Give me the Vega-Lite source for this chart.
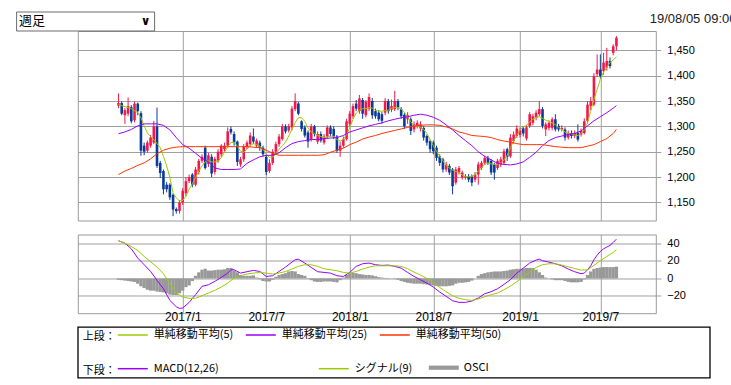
{
  "$schema": "https://vega.github.io/schema/vega-lite/v6.json",
  "background": "white",
  "padding": {"left": 14.8, "top": 11, "right": 0, "bottom": 0},
  "config": {
    "view": {"stroke": "#9a9a9a", "strokeWidth": 1},
    "axis": {"gridColor": "#a0a0a0", "gridWidth": 1, "domain": false, "labelFont": "Liberation Sans", "labelFontSize": 11, "labelColor": "#000000", "tickColor": "#a0a0a0", "labelOverlap": false},
    "legend": {
      "orient": "none", "direction": "horizontal", "symbolType": "stroke", "symbolSize": 900, "symbolStrokeWidth": 1.5,
      "labelFont": "Noto Sans CJK JP", "labelFontSize": 11, "labelColor": "#000000", "labelOffset": 5, "labelLimit": 300,
      "titleFont": "Noto Sans CJK JP", "titleFontSize": 11, "titleFontWeight": "normal", "titleColor": "#000000",
      "titleOrient": "left", "titlePadding": 1, "titleAnchor": "end", "titleBaseline": "alphabetic", "padding": 0
    }
  },
  "datasets": {
    "k": [
      {"w":0,"o":1341,"h":1365,"l":1336,"c":1346,"m5":1343,"osc":-1.5},
      {"w":1,"o":1346,"h":1349,"l":1322,"c":1325,"m5":1341,"osc":-2},
      {"w":2,"o":1322,"h":1336,"l":1305,"c":1332,"m5":1339,"osc":-2.5},
      {"w":3,"o":1325,"h":1357,"l":1320,"c":1340,"m5":1337,"osc":-3},
      {"w":4,"o":1338,"h":1342,"l":1306,"c":1310,"m5":1335,"osc":-3.5},
      {"w":5,"o":1312,"h":1349,"l":1308,"c":1345,"m5":1331,"osc":-4},
      {"w":6,"o":1345,"h":1347,"l":1322,"c":1330,"m5":1327,"osc":-6},
      {"w":7,"o":1326,"h":1330,"l":1242,"c":1252,"m5":1317,"osc":-9},
      {"w":8,"o":1262,"h":1268,"l":1243,"c":1250,"m5":1301,"osc":-11},
      {"w":9,"o":1252,"h":1272,"l":1248,"c":1268,"m5":1287,"osc":-13},
      {"w":10,"o":1262,"h":1283,"l":1258,"c":1278,"m5":1280,"osc":-14},
      {"w":11,"o":1268,"h":1311,"l":1265,"c":1300,"m5":1274,"osc":-14},
      {"w":12,"o":1300,"h":1337,"l":1218,"c":1222,"m5":1266,"osc":-15},
      {"w":13,"o":1228,"h":1232,"l":1198,"c":1208,"m5":1258,"osc":-15.5},
      {"w":14,"o":1212,"h":1215,"l":1166,"c":1176,"m5":1241,"osc":-16},
      {"w":15,"o":1185,"h":1190,"l":1170,"c":1176,"m5":1222,"osc":-17},
      {"w":16,"o":1185,"h":1188,"l":1155,"c":1160,"m5":1199,"osc":-18.5},
      {"w":17,"o":1165,"h":1168,"l":1123,"c":1136,"m5":1169,"osc":-19},
      {"w":18,"o":1137,"h":1140,"l":1128,"c":1133,"m5":1159,"osc":-19},
      {"w":19,"o":1133,"h":1155,"l":1128,"c":1150,"m5":1153,"osc":-17},
      {"w":20,"o":1150,"h":1178,"l":1145,"c":1173,"m5":1154,"osc":-14},
      {"w":21,"o":1168,"h":1200,"l":1162,"c":1192,"m5":1162,"osc":-10},
      {"w":22,"o":1192,"h":1205,"l":1188,"c":1200,"m5":1176,"osc":-8},
      {"w":23,"o":1205,"h":1208,"l":1180,"c":1185,"m5":1187,"osc":-3},
      {"w":24,"o":1185,"h":1220,"l":1182,"c":1215,"m5":1199,"osc":3},
      {"w":25,"o":1210,"h":1236,"l":1205,"c":1232,"m5":1212,"osc":7},
      {"w":26,"o":1232,"h":1245,"l":1228,"c":1240,"m5":1222,"osc":10},
      {"w":27,"o":1258,"h":1262,"l":1215,"c":1218,"m5":1230,"osc":11},
      {"w":28,"o":1226,"h":1248,"l":1220,"c":1243,"m5":1232,"osc":9},
      {"w":29,"o":1240,"h":1245,"l":1200,"c":1207,"m5":1230,"osc":9},
      {"w":30,"o":1210,"h":1240,"l":1205,"c":1236,"m5":1230,"osc":9.5},
      {"w":31,"o":1232,"h":1255,"l":1228,"c":1250,"m5":1232,"osc":10},
      {"w":32,"o":1245,"h":1265,"l":1240,"c":1262,"m5":1238,"osc":10},
      {"w":33,"o":1255,"h":1268,"l":1250,"c":1262,"m5":1249,"osc":10.5},
      {"w":34,"o":1262,"h":1298,"l":1258,"c":1290,"m5":1260,"osc":12},
      {"w":35,"o":1295,"h":1300,"l":1284,"c":1288,"m5":1268,"osc":12},
      {"w":36,"o":1285,"h":1290,"l":1262,"c":1268,"m5":1269,"osc":9},
      {"w":37,"o":1270,"h":1272,"l":1222,"c":1230,"m5":1261,"osc":7},
      {"w":38,"o":1225,"h":1240,"l":1220,"c":1235,"m5":1251,"osc":4},
      {"w":39,"o":1235,"h":1265,"l":1230,"c":1260,"m5":1249,"osc":3},
      {"w":40,"o":1260,"h":1272,"l":1255,"c":1268,"m5":1255,"osc":3},
      {"w":41,"o":1265,"h":1288,"l":1260,"c":1282,"m5":1262,"osc":3},
      {"w":42,"o":1280,"h":1296,"l":1265,"c":1270,"m5":1266,"osc":3.5},
      {"w":43,"o":1262,"h":1276,"l":1258,"c":1272,"m5":1264,"osc":1},
      {"w":44,"o":1268,"h":1272,"l":1252,"c":1258,"m5":1261,"osc":-1},
      {"w":45,"o":1258,"h":1262,"l":1240,"c":1245,"m5":1255,"osc":-3},
      {"w":46,"o":1240,"h":1244,"l":1204,"c":1210,"m5":1245,"osc":-3.5},
      {"w":47,"o":1212,"h":1235,"l":1208,"c":1228,"m5":1239,"osc":-3.5},
      {"w":48,"o":1228,"h":1255,"l":1224,"c":1250,"m5":1240,"osc":-1.5},
      {"w":49,"o":1250,"h":1270,"l":1245,"c":1265,"m5":1245,"osc":2},
      {"w":50,"o":1265,"h":1285,"l":1260,"c":1280,"m5":1255,"osc":4},
      {"w":51,"o":1275,"h":1305,"l":1272,"c":1300,"m5":1262,"osc":5},
      {"w":52,"o":1300,"h":1304,"l":1286,"c":1290,"m5":1269,"osc":6},
      {"w":53,"o":1292,"h":1305,"l":1288,"c":1300,"m5":1281,"osc":8},
      {"w":54,"o":1298,"h":1340,"l":1292,"c":1335,"m5":1294,"osc":8.5},
      {"w":55,"o":1334,"h":1365,"l":1330,"c":1350,"m5":1307,"osc":8},
      {"w":56,"o":1345,"h":1348,"l":1322,"c":1325,"m5":1317,"osc":5},
      {"w":57,"o":1310,"h":1312,"l":1290,"c":1295,"m5":1317,"osc":4},
      {"w":58,"o":1298,"h":1302,"l":1278,"c":1282,"m5":1310,"osc":3},
      {"w":59,"o":1288,"h":1292,"l":1258,"c":1270,"m5":1297,"osc":0.5},
      {"w":60,"o":1275,"h":1305,"l":1270,"c":1300,"m5":1289,"osc":-2},
      {"w":61,"o":1300,"h":1303,"l":1280,"c":1285,"m5":1286,"osc":-3.5},
      {"w":62,"o":1270,"h":1290,"l":1265,"c":1285,"m5":1282,"osc":-4},
      {"w":63,"o":1285,"h":1290,"l":1268,"c":1272,"m5":1280,"osc":-4},
      {"w":64,"o":1268,"h":1285,"l":1264,"c":1280,"m5":1278,"osc":-3.5},
      {"w":65,"o":1280,"h":1302,"l":1276,"c":1298,"m5":1279,"osc":-3.5},
      {"w":66,"o":1298,"h":1302,"l":1280,"c":1285,"m5":1281,"osc":-3.5},
      {"w":67,"o":1295,"h":1300,"l":1275,"c":1280,"m5":1280,"osc":-4},
      {"w":68,"o":1280,"h":1283,"l":1248,"c":1252,"m5":1274,"osc":-4.5},
      {"w":69,"o":1252,"h":1270,"l":1240,"c":1262,"m5":1271,"osc":-2},
      {"w":70,"o":1262,"h":1280,"l":1258,"c":1275,"m5":1274,"osc":1},
      {"w":71,"o":1275,"h":1315,"l":1272,"c":1310,"m5":1284,"osc":4},
      {"w":72,"o":1305,"h":1330,"l":1300,"c":1325,"m5":1297,"osc":6},
      {"w":73,"o":1320,"h":1345,"l":1315,"c":1340,"m5":1314,"osc":6.5},
      {"w":74,"o":1345,"h":1352,"l":1330,"c":1335,"m5":1326,"osc":6},
      {"w":75,"o":1330,"h":1362,"l":1325,"c":1355,"m5":1332,"osc":5},
      {"w":76,"o":1352,"h":1356,"l":1315,"c":1325,"m5":1335,"osc":4.5},
      {"w":77,"o":1322,"h":1352,"l":1318,"c":1348,"m5":1335,"osc":4},
      {"w":78,"o":1335,"h":1365,"l":1330,"c":1358,"m5":1337,"osc":4},
      {"w":79,"o":1350,"h":1356,"l":1315,"c":1322,"m5":1336,"osc":3.5},
      {"w":80,"o":1330,"h":1335,"l":1315,"c":1320,"m5":1332,"osc":2.5},
      {"w":81,"o":1327,"h":1332,"l":1310,"c":1314,"m5":1330,"osc":1.5},
      {"w":82,"o":1324,"h":1328,"l":1305,"c":1311,"m5":1330,"osc":1},
      {"w":83,"o":1327,"h":1356,"l":1322,"c":1350,"m5":1331,"osc":0.5},
      {"w":84,"o":1350,"h":1354,"l":1325,"c":1330,"m5":1332,"osc":0.5},
      {"w":85,"o":1333,"h":1353,"l":1328,"c":1340,"m5":1336,"osc":0},
      {"w":86,"o":1334,"h":1370,"l":1330,"c":1350,"m5":1337,"osc":-0.5},
      {"w":87,"o":1350,"h":1354,"l":1332,"c":1337,"m5":1337,"osc":-1.5},
      {"w":88,"o":1334,"h":1338,"l":1315,"c":1320,"m5":1334,"osc":-3},
      {"w":89,"o":1323,"h":1326,"l":1295,"c":1300,"m5":1328,"osc":-4},
      {"w":90,"o":1314,"h":1328,"l":1305,"c":1322,"m5":1319,"osc":-5},
      {"w":91,"o":1314,"h":1318,"l":1283,"c":1291,"m5":1309,"osc":-5.5},
      {"w":92,"o":1294,"h":1310,"l":1288,"c":1304,"m5":1302,"osc":-6},
      {"w":93,"o":1301,"h":1312,"l":1296,"c":1307,"m5":1301,"osc":-6},
      {"w":94,"o":1296,"h":1310,"l":1290,"c":1304,"m5":1298,"osc":-6},
      {"w":95,"o":1297,"h":1300,"l":1272,"c":1278,"m5":1294,"osc":-6.5},
      {"w":96,"o":1281,"h":1284,"l":1262,"c":1268,"m5":1286,"osc":-7},
      {"w":97,"o":1271,"h":1274,"l":1248,"c":1255,"m5":1274,"osc":-7.5},
      {"w":98,"o":1268,"h":1272,"l":1245,"c":1251,"m5":1262,"osc":-8},
      {"w":99,"o":1258,"h":1262,"l":1232,"c":1238,"m5":1251,"osc":-8.5},
      {"w":100,"o":1241,"h":1245,"l":1222,"c":1228,"m5":1241,"osc":-9},
      {"w":101,"o":1235,"h":1238,"l":1209,"c":1215,"m5":1232,"osc":-9},
      {"w":102,"o":1215,"h":1230,"l":1210,"c":1225,"m5":1223,"osc":-9},
      {"w":103,"o":1222,"h":1226,"l":1204,"c":1209,"m5":1218,"osc":-8.5},
      {"w":104,"o":1215,"h":1218,"l":1166,"c":1182,"m5":1214,"osc":-8},
      {"w":105,"o":1189,"h":1220,"l":1185,"c":1215,"m5":1211,"osc":-6},
      {"w":106,"o":1209,"h":1222,"l":1205,"c":1218,"m5":1209,"osc":-5},
      {"w":107,"o":1199,"h":1213,"l":1195,"c":1209,"m5":1204,"osc":-5},
      {"w":108,"o":1199,"h":1206,"l":1195,"c":1202,"m5":1201,"osc":-4.5},
      {"w":109,"o":1202,"h":1206,"l":1190,"c":1195,"m5":1201,"osc":-4},
      {"w":110,"o":1202,"h":1205,"l":1182,"c":1189,"m5":1201,"osc":-2.5},
      {"w":111,"o":1195,"h":1210,"l":1190,"c":1205,"m5":1205,"osc":0},
      {"w":112,"o":1205,"h":1230,"l":1185,"c":1225,"m5":1212,"osc":3},
      {"w":113,"o":1218,"h":1232,"l":1214,"c":1228,"m5":1218,"osc":5},
      {"w":114,"o":1228,"h":1242,"l":1224,"c":1238,"m5":1225,"osc":6},
      {"w":115,"o":1238,"h":1242,"l":1224,"c":1228,"m5":1228,"osc":7},
      {"w":116,"o":1232,"h":1236,"l":1204,"c":1209,"m5":1226,"osc":7.5},
      {"w":117,"o":1225,"h":1228,"l":1195,"c":1209,"m5":1225,"osc":8},
      {"w":118,"o":1218,"h":1236,"l":1214,"c":1232,"m5":1225,"osc":8},
      {"w":119,"o":1225,"h":1240,"l":1220,"c":1235,"m5":1228,"osc":8},
      {"w":120,"o":1228,"h":1256,"l":1224,"c":1251,"m5":1234,"osc":8.5},
      {"w":121,"o":1255,"h":1258,"l":1232,"c":1240,"m5":1243,"osc":9},
      {"w":122,"o":1241,"h":1285,"l":1238,"c":1278,"m5":1258,"osc":10},
      {"w":123,"o":1271,"h":1290,"l":1266,"c":1284,"m5":1271,"osc":10.5},
      {"w":124,"o":1281,"h":1302,"l":1277,"c":1296,"m5":1282,"osc":11},
      {"w":125,"o":1283,"h":1298,"l":1278,"c":1293,"m5":1293,"osc":11},
      {"w":126,"o":1296,"h":1300,"l":1280,"c":1286,"m5":1299,"osc":11.5},
      {"w":127,"o":1276,"h":1302,"l":1272,"c":1298,"m5":1302,"osc":12},
      {"w":128,"o":1301,"h":1328,"l":1297,"c":1324,"m5":1309,"osc":12},
      {"w":129,"o":1307,"h":1325,"l":1302,"c":1320,"m5":1314,"osc":12},
      {"w":130,"o":1317,"h":1332,"l":1312,"c":1327,"m5":1318,"osc":10},
      {"w":131,"o":1324,"h":1350,"l":1320,"c":1334,"m5":1319,"osc":7},
      {"w":132,"o":1334,"h":1338,"l":1296,"c":1301,"m5":1316,"osc":4},
      {"w":133,"o":1294,"h":1308,"l":1281,"c":1304,"m5":1312,"osc":1},
      {"w":134,"o":1297,"h":1312,"l":1292,"c":1307,"m5":1310,"osc":0},
      {"w":135,"o":1297,"h":1318,"l":1292,"c":1314,"m5":1307,"osc":-1},
      {"w":136,"o":1314,"h":1324,"l":1290,"c":1294,"m5":1303,"osc":-2},
      {"w":137,"o":1301,"h":1305,"l":1290,"c":1294,"m5":1298,"osc":-2},
      {"w":138,"o":1294,"h":1302,"l":1290,"c":1297,"m5":1294,"osc":-2},
      {"w":139,"o":1294,"h":1298,"l":1272,"c":1278,"m5":1289,"osc":-3},
      {"w":140,"o":1278,"h":1292,"l":1274,"c":1287,"m5":1286,"osc":-4},
      {"w":141,"o":1287,"h":1292,"l":1276,"c":1281,"m5":1285,"osc":-4.5},
      {"w":142,"o":1281,"h":1292,"l":1277,"c":1287,"m5":1283,"osc":-4.5},
      {"w":143,"o":1287,"h":1304,"l":1270,"c":1274,"m5":1282,"osc":-4.5},
      {"w":144,"o":1284,"h":1296,"l":1280,"c":1291,"m5":1286,"osc":-4},
      {"w":145,"o":1287,"h":1316,"l":1284,"c":1310,"m5":1294,"osc":-1},
      {"w":146,"o":1311,"h":1350,"l":1306,"c":1343,"m5":1307,"osc":4},
      {"w":147,"o":1340,"h":1358,"l":1332,"c":1350,"m5":1330,"osc":8},
      {"w":148,"o":1343,"h":1405,"l":1340,"c":1399,"m5":1353,"osc":11},
      {"w":149,"o":1403,"h":1442,"l":1398,"c":1412,"m5":1373,"osc":12},
      {"w":150,"o":1412,"h":1442,"l":1394,"c":1399,"m5":1393,"osc":12.5},
      {"w":151,"o":1409,"h":1445,"l":1402,"c":1426,"m5":1407,"osc":13},
      {"w":152,"o":1416,"h":1455,"l":1410,"c":1429,"m5":1416,"osc":13},
      {"w":153,"o":1429,"h":1436,"l":1414,"c":1419,"m5":1426,"osc":13},
      {"w":154,"o":1445,"h":1462,"l":1440,"c":1458,"m5":1431,"osc":13},
      {"w":155,"o":1458,"h":1478,"l":1450,"c":1475,"m5":1437,"osc":13.5}
    ],
    "s": [
      {"w":0,"m25":1285.5,"m50":1205,"macd":43.1,"sig":43.1},
      {"w":2,"m25":1289,"m50":1212,"macd":40.4,"sig":40.4},
      {"w":4,"m25":1294,"m50":1217,"macd":33.9,"sig":36.6},
      {"w":6,"m25":1301,"m50":1223,"macd":23.3,"sig":32.0},
      {"w":8,"m25":1305,"m50":1228,"macd":15.7,"sig":25.2},
      {"w":10,"m25":1305,"m50":1236,"macd":8.0,"sig":19.1},
      {"w":12,"m25":1305,"m50":1246,"macd":-2.2,"sig":13.0},
      {"w":14,"m25":1302,"m50":1253,"macd":-11.8,"sig":5.4},
      {"w":16,"m25":1293,"m50":1257,"macd":-25.1,"sig":-6.1},
      {"w":18,"m25":1278,"m50":1259,"macd":-32.4,"sig":-16.7},
      {"w":19,"macd":-34.3},
      {"w":20,"m25":1264,"m50":1260,"macd":-33.9,"sig":-21.3},
      {"w":22,"m25":1257,"m50":1260,"macd":-27.4,"sig":-22.8},
      {"w":24,"m25":1247,"m50":1260,"macd":-18.6,"sig":-22.8},
      {"w":26,"m25":1237,"m50":1260,"macd":-9.1,"sig":-19.8},
      {"w":28,"m25":1230,"m50":1260,"macd":-7.2,"sig":-16.7},
      {"w":30,"m25":1218,"m50":1260,"macd":-3.4,"sig":-13.7},
      {"w":32,"m25":1215,"m50":1260,"macd":1.2,"sig":-9.9},
      {"w":34,"m25":1215,"m50":1260,"macd":6.1,"sig":-5.3},
      {"w":35,"macd":9.9},
      {"w":36,"m25":1215,"m50":1260,"macd":9.9,"sig":0.4},
      {"w":38,"m25":1216,"m50":1260,"macd":6.1,"sig":3.1},
      {"w":40,"m25":1227,"m50":1260,"macd":7.7,"sig":5.0},
      {"w":42,"m25":1234,"m50":1259,"macd":9.2,"sig":6.1},
      {"w":44,"m25":1240,"m50":1258,"macd":8.0,"sig":6.9},
      {"w":46,"m25":1243,"m50":1253,"macd":2.3,"sig":6.1},
      {"w":48,"m25":1243,"m50":1247,"macd":3.1,"sig":5.0},
      {"w":50,"m25":1248,"m50":1243,"macd":8.0,"sig":6.1},
      {"w":52,"m25":1258,"m50":1243,"macd":13.0,"sig":8.0},
      {"w":54,"m25":1266,"m50":1243,"macd":18.7,"sig":10.7},
      {"w":55,"macd":21.4},
      {"w":56,"m25":1270,"m50":1243,"macd":22.1,"sig":13.8},
      {"w":58,"m25":1272,"m50":1243,"macd":17.6,"sig":15.7},
      {"w":60,"m25":1274,"m50":1243,"macd":12.6,"sig":15.7},
      {"w":62,"m25":1274,"m50":1243,"macd":7.7,"sig":13.8},
      {"w":64,"m25":1276,"m50":1244,"macd":6.9,"sig":11.1},
      {"w":66,"m25":1277,"m50":1249,"macd":6.1,"sig":9.9},
      {"w":68,"m25":1278,"m50":1253,"macd":3.1,"sig":8.8},
      {"w":70,"m25":1282,"m50":1257,"macd":2.3,"sig":6.9},
      {"w":72,"m25":1289,"m50":1264,"macd":6.9,"sig":6.1},
      {"w":74,"m25":1293,"m50":1269,"macd":13.8,"sig":8.0},
      {"w":76,"m25":1297,"m50":1275,"macd":16.8,"sig":10.7},
      {"w":78,"m25":1301,"m50":1279,"macd":17.6,"sig":13.0},
      {"w":80,"m25":1304,"m50":1282,"macd":15.7,"sig":14.5},
      {"w":82,"m25":1307,"m50":1286,"macd":14.9,"sig":14.5},
      {"w":84,"m25":1311,"m50":1289,"macd":15.3,"sig":14.5},
      {"w":86,"m25":1314,"m50":1292,"macd":13.8,"sig":14.5},
      {"w":88,"m25":1317,"m50":1295,"macd":11.8,"sig":13.8},
      {"w":90,"m25":1319,"m50":1298,"macd":6.9,"sig":11.1},
      {"w":92,"m25":1322,"m50":1301,"macd":2.3,"sig":7.3},
      {"w":94,"m25":1324,"m50":1302,"macd":-1.5,"sig":3.8},
      {"w":96,"m25":1322,"m50":1303,"macd":-5.3,"sig":0},
      {"w":98,"m25":1318,"m50":1303,"macd":-9.9,"sig":-4.9},
      {"w":100,"m25":1312,"m50":1302,"macd":-15.6,"sig":-10.3},
      {"w":102,"m25":1303,"m50":1299,"macd":-20.5,"sig":-15.2},
      {"w":104,"m25":1293,"m50":1295,"macd":-25.5,"sig":-19.8},
      {"w":106,"m25":1282,"m50":1289,"macd":-27.4,"sig":-22.8},
      {"w":108,"m25":1272,"m50":1286,"macd":-27.4,"sig":-24.3},
      {"w":110,"m25":1262,"m50":1282,"macd":-25.9,"sig":-25.1},
      {"w":112,"m25":1250,"m50":1281,"macd":-22.4,"sig":-23.6},
      {"w":114,"m25":1241,"m50":1280,"macd":-17.5,"sig":-20.9},
      {"w":116,"m25":1234,"m50":1278,"macd":-15.2,"sig":-18.7},
      {"w":118,"m25":1227,"m50":1274,"macd":-11.8,"sig":-16.7},
      {"w":120,"m25":1225,"m50":1271,"macd":-6.8,"sig":-12.9},
      {"w":122,"m25":1224,"m50":1269,"macd":-1.5,"sig":-8.8},
      {"w":124,"m25":1226,"m50":1266,"macd":6.1,"sig":-3.8},
      {"w":126,"m25":1230,"m50":1264,"macd":11.8,"sig":1.9},
      {"w":128,"m25":1239,"m50":1264,"macd":17.6,"sig":7.3},
      {"w":130,"m25":1249,"m50":1264,"macd":21.0,"sig":12.6},
      {"w":131,"macd":22.1},
      {"w":132,"m25":1262,"m50":1264,"macd":20.2,"sig":15.7},
      {"w":134,"m25":1272,"m50":1262,"macd":18.7,"sig":16.8},
      {"w":136,"m25":1278,"m50":1260,"macd":16.8,"sig":16.8},
      {"w":138,"m25":1281,"m50":1259,"macd":14.5,"sig":15.3},
      {"w":140,"m25":1284,"m50":1258,"macd":10.7,"sig":13.3},
      {"w":142,"m25":1286,"m50":1258,"macd":7.7,"sig":11.4},
      {"w":144,"m25":1291,"m50":1258,"macd":5.4,"sig":9.5},
      {"w":145,"macd":6.1},
      {"w":146,"m25":1301,"m50":1261,"macd":9.9,"sig":9.9},
      {"w":147,"macd":14.5},
      {"w":148,"m25":1311,"m50":1264,"macd":21.4,"sig":14.9},
      {"w":149,"macd":26.7},
      {"w":150,"m25":1319,"m50":1270,"macd":30.9,"sig":20.2},
      {"w":151,"macd":33.9},
      {"w":152,"m25":1327,"m50":1276,"macd":35.9,"sig":25.2},
      {"w":153,"macd":37.8},
      {"w":154,"m25":1336,"m50":1286,"macd":41.2,"sig":29.8},
      {"w":155,"m25":1341,"m50":1294,"macd":45.0,"sig":32.8}
    ]
  },
  "spacing": 13.5,
  "bounds": "flush",
  "resolve": {"scale": {"color": "independent", "fill": "independent"}, "legend": {"color": "independent", "fill": "independent"}},
  "vconcat": [
    {
      "width": 578,
      "height": 189.5,
      "title": {"text": "19/08/05 09:00", "anchor": "start", "frame": "group", "dx": 572, "offset": -0.6, "baseline": "middle", "font": "Liberation Sans", "fontSize": 13, "fontWeight": "normal", "color": "#222222"},
      "layer": [
        {
          "data": {"name": "k"},
          "mark": {"type": "rule", "strokeWidth": 1},
          "encoding": {
            "x": {"field": "w", "type": "quantitative", "scale": {"domain": [-11.1, 165.7], "nice": false, "zero": false},
                  "axis": {"values": [20, 46, 72, 98, 125, 150], "tickCount": 30, "labels": false, "ticks": false, "grid": true, "title": null}},
            "y": {"field": "l", "type": "quantitative", "scale": {"domain": [1114.4, 1488.1], "nice": false, "zero": false},
                  "axis": {"orient": "right", "values": [1150, 1200, 1250, 1300, 1350, 1400, 1450], "tickCount": 30, "format": ",d", "grid": true, "tickSize": 5, "labelPadding": 6, "labelOverlap": false, "labelBound": false, "title": null}},
            "y2": {"field": "h"},
            "color": {"condition": {"test": "datum.c >= datum.o", "value": "#f5174a"}, "value": "#0b3a9b"}
          }
        },
        {
          "data": {"name": "k"},
          "mark": {"type": "bar", "size": 2.6},
          "encoding": {
            "x": {"field": "w", "type": "quantitative"},
            "y": {"field": "o", "type": "quantitative", "title": null},
            "y2": {"field": "c"},
            "color": {"condition": {"test": "datum.c >= datum.o", "value": "#f5174a"}, "value": "#0b3a9b"}
          }
        },
        {
          "data": {"name": "k"},
          "mark": {"type": "line", "strokeWidth": 1},
          "encoding": {
            "x": {"field": "w", "type": "quantitative"},
            "y": {"field": "m5", "type": "quantitative", "title": null},
            "color": {"datum": "単純移動平均(5)", "type": "nominal",
                      "scale": {"domain": ["単純移動平均(5)", "単純移動平均(25)", "単純移動平均(50)"], "range": ["#99cc00", "#9a00ff", "#ff3300"]},
                      "legend": {"title": "上段：", "orient": "none", "legendX": 5, "legendY": 288, "columnPadding": 9}}
          }
        },
        {
          "data": {"name": "s"},
          "transform": [{"filter": {"field": "m25", "valid": true}}],
          "mark": {"type": "line", "strokeWidth": 1},
          "encoding": {
            "x": {"field": "w", "type": "quantitative"},
            "y": {"field": "m25", "type": "quantitative", "title": null},
            "color": {"datum": "単純移動平均(25)", "type": "nominal"}
          }
        },
        {
          "data": {"name": "s"},
          "transform": [{"filter": {"field": "m50", "valid": true}}],
          "mark": {"type": "line", "strokeWidth": 1},
          "encoding": {
            "x": {"field": "w", "type": "quantitative"},
            "y": {"field": "m50", "type": "quantitative", "title": null},
            "color": {"datum": "単純移動平均(50)", "type": "nominal"}
          }
        }
      ]
    },
    {
      "width": 578,
      "height": 78.7,
      "layer": [
        {
          "data": {"name": "k"},
          "mark": {"type": "bar", "size": 3.3},
          "encoding": {
            "x": {"field": "w", "type": "quantitative", "scale": {"domain": [-11.1, 165.7], "nice": false, "zero": false},
                  "axis": {"values": [20, 46, 72, 98, 125, 150], "tickCount": 30, "ticks": false, "grid": true, "title": null, "labelFontSize": 12, "labelPadding": -2,
                           "labelExpr": "datum.value == 20 ? '2017/1' : datum.value == 46 ? '2017/7' : datum.value == 72 ? '2018/1' : datum.value == 98 ? '2018/7' : datum.value == 125 ? '2019/1' : '2019/7'"}},
            "y": {"field": "osc", "type": "quantitative", "scale": {"domain": [-39.8, 50.3], "nice": false},
                  "axis": {"orient": "right", "values": [-20, 0, 20, 40], "tickCount": 30, "grid": true, "tickSize": 5, "labelPadding": 6, "labelOverlap": false, "labelBound": false, "title": null}},
            "fill": {"datum": "OSCI", "type": "nominal",
                     "scale": {"domain": ["OSCI"], "range": ["#999999"]},
                     "legend": {"title": null, "orient": "none", "legendX": 351, "legendY": 118.2, "symbolType": "M-1,-0.14H1V0.14H-1Z", "symbolStrokeWidth": 0}}
          }
        },
        {
          "data": {"name": "s"},
          "transform": [{"filter": {"field": "macd", "valid": true}}],
          "mark": {"type": "line", "strokeWidth": 1},
          "encoding": {
            "x": {"field": "w", "type": "quantitative"},
            "y": {"field": "macd", "type": "quantitative", "title": null},
            "color": {"datum": "MACD(12,26)", "type": "nominal",
                      "scale": {"domain": ["MACD(12,26)", "シグナル(9)"], "range": ["#9a00ff", "#99cc00"]},
                      "legend": {"title": "下段：", "orient": "none", "legendX": 5, "legendY": 118.2, "columnPadding": 97}}
          }
        },
        {
          "data": {"name": "s"},
          "transform": [{"filter": {"field": "sig", "valid": true}}],
          "mark": {"type": "line", "strokeWidth": 1},
          "encoding": {
            "x": {"field": "w", "type": "quantitative"},
            "y": {"field": "sig", "type": "quantitative", "title": null},
            "color": {"datum": "シグナル(9)", "type": "nominal"}
          }
        }
      ]
    },
    {
      "width": 632,
      "height": 50.6,
      "view": {"stroke": "#000000", "strokeWidth": 1.3},
      "data": {"values": [{}]},
      "mark": {"type": "point", "opacity": 0},
      "encoding": {
        "shape": {"datum": "∨", "type": "nominal",
                  "legend": {"title": "週足", "orient": "none", "legendX": -61.7, "legendY": -19.5, "strokeColor": "#6a6a6a", "padding": 3,
                             "symbolType": "circle", "symbolSize": 0, "symbolOpacity": 0, "labelOffset": 0,
                             "titleFont": "Noto Sans CJK JP", "titleFontSize": 13, "titleOrient": "left", "titlePadding": 82.7, "titleAnchor": "middle", "titleBaseline": "middle",
                             "labelFont": "DejaVu Sans", "labelFontSize": 12, "labelFontWeight": "bold"}}
      }
    }
  ]
}
